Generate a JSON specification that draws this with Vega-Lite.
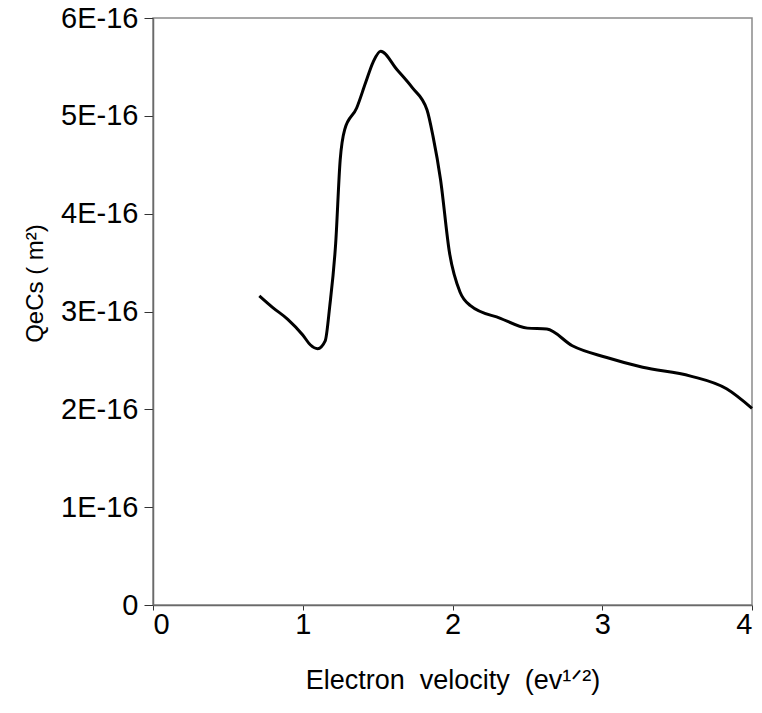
{
  "$schema": "https://vega.github.io/schema/vega-lite/v6.json",
  "width": 599,
  "height": 587,
  "autosize": {"type": "none"},
  "padding": {"left": 153, "top": 18, "right": 10, "bottom": 108},
  "background": "white",
  "config": {
    "font": "Liberation Sans",
    "view": {"stroke": "#8a8a8a", "strokeWidth": 1.5},
    "axis": {
      "grid": false,
      "domainColor": "#6a6a6a",
      "domainWidth": 1.5,
      "tickColor": "#333333",
      "tickWidth": 1,
      "labelFont": "Liberation Sans",
      "labelFontSize": 29,
      "labelColor": "#000000",
      "titleFont": "Liberation Sans",
      "titleFontWeight": "normal",
      "titleColor": "#000000"
    }
  },
  "data": {
    "values": [
      {"v": 0.71, "q": 3.16e-16},
      {"v": 0.80, "q": 3.04e-16},
      {"v": 0.90, "q": 2.92e-16},
      {"v": 1.00, "q": 2.76e-16},
      {"v": 1.05, "q": 2.66e-16},
      {"v": 1.10, "q": 2.62e-16},
      {"v": 1.15, "q": 2.70e-16},
      {"v": 1.18, "q": 3.05e-16},
      {"v": 1.22, "q": 3.70e-16},
      {"v": 1.25, "q": 4.55e-16},
      {"v": 1.28, "q": 4.86e-16},
      {"v": 1.36, "q": 5.08e-16},
      {"v": 1.42, "q": 5.34e-16},
      {"v": 1.47, "q": 5.55e-16},
      {"v": 1.52, "q": 5.66e-16},
      {"v": 1.63, "q": 5.47e-16},
      {"v": 1.73, "q": 5.29e-16},
      {"v": 1.83, "q": 5.06e-16},
      {"v": 1.87, "q": 4.79e-16},
      {"v": 1.92, "q": 4.35e-16},
      {"v": 1.98, "q": 3.60e-16},
      {"v": 2.05, "q": 3.20e-16},
      {"v": 2.12, "q": 3.06e-16},
      {"v": 2.32, "q": 2.93e-16},
      {"v": 2.50, "q": 2.83e-16},
      {"v": 2.63, "q": 2.82e-16},
      {"v": 2.80, "q": 2.65e-16},
      {"v": 3.03, "q": 2.53e-16},
      {"v": 3.27, "q": 2.43e-16},
      {"v": 3.59, "q": 2.34e-16},
      {"v": 3.83, "q": 2.21e-16},
      {"v": 4.00, "q": 2.01e-16}
    ]
  },
  "mark": {"type": "line", "color": "#000000", "strokeWidth": 3, "interpolate": "monotone"},
  "encoding": {
    "x": {
      "field": "v",
      "type": "quantitative",
      "scale": {"domain": [0, 4], "nice": false, "zero": false},
      "axis": {
        "values": [0, 1, 2, 3, 4],
        "format": "d",
        "tickSize": 5,
        "labelPadding": 0,
        "title": "Electron\u00a0\u00a0velocity\u00a0\u00a0(ev¹ᐟ²)",
        "titleFontSize": 27,
        "titlePadding": 28
      }
    },
    "y": {
      "field": "q",
      "type": "quantitative",
      "scale": {"domain": [0, 6e-16], "nice": false},
      "axis": {
        "values": [0, 1e-16, 2e-16, 3e-16, 4e-16, 5e-16, 6e-16],
        "labelExpr": "datum.value == 0 ? '0' : round(datum.value * 1e16) + 'E-16'",
        "tickSize": 9,
        "labelPadding": 6,
        "title": "QeCs ( m²)",
        "titleFontSize": 24,
        "titlePadding": 13,
        "titleY": 265
      }
    }
  }
}
